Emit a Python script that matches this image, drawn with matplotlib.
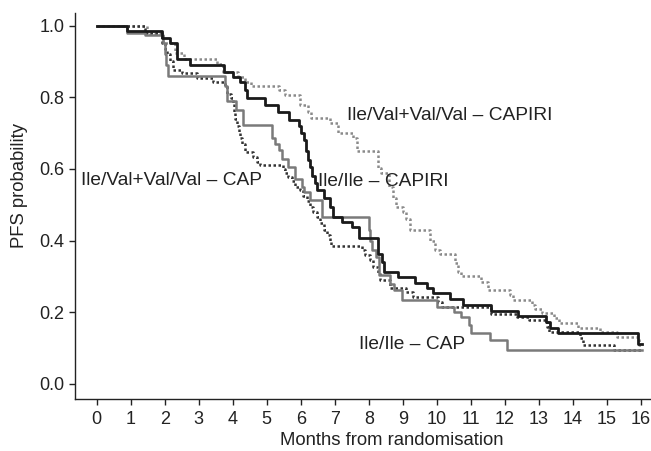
import matplotlib.pyplot as plt

plt.rcParams['font.family'] = ['Liberation Sans', 'DejaVu Sans']

# Ile/Val+Val/Val - CAPIRI (light dotted)
val_capiri_t = [0, 1.47, 1.96, 2.30, 2.56, 3.55, 3.70, 4.15, 4.35, 4.55, 5.35, 5.55, 5.98, 6.20, 6.30,
                6.86, 7.10, 7.55, 7.65, 8.28, 8.35, 8.60, 8.72, 8.80, 9.00, 9.10, 9.20, 9.80, 9.95, 10.10,
                10.55, 10.62, 10.70, 11.30, 11.50, 12.15, 12.25, 12.80, 12.90, 13.10, 13.45, 13.60, 14.15,
                14.80, 15.30, 15.95]
val_capiri_s = [1.0, 0.975, 0.950, 0.922, 0.908, 0.894, 0.871, 0.857, 0.843, 0.831, 0.820, 0.806, 0.778,
                0.760, 0.741, 0.727, 0.699, 0.685, 0.650, 0.602, 0.588, 0.550, 0.520, 0.495, 0.480, 0.460,
                0.430, 0.400, 0.373, 0.364, 0.337, 0.313, 0.301, 0.285, 0.262, 0.248, 0.234, 0.220, 0.209,
                0.198, 0.184, 0.171, 0.156, 0.145, 0.131, 0.109]
val_capiri_end = 16.05

# Ile/Ile - CAPIRI (black solid)
ile_capiri_t = [0, 0.88, 1.92, 2.16, 2.35, 2.74, 3.75, 4.02, 4.21, 4.36, 4.41, 4.95, 5.34, 5.66, 5.95,
                6.02, 6.10, 6.15, 6.20, 6.27, 6.33, 6.42, 6.48, 6.67, 6.86, 6.96, 7.20, 7.50, 7.70, 8.27,
                8.40, 8.45, 8.85, 9.36, 9.70, 9.90, 10.40, 10.78, 11.60, 12.40, 13.22, 13.32, 13.57, 15.93]
ile_capiri_s = [1.0, 0.985, 0.965, 0.950, 0.906, 0.890, 0.871, 0.857, 0.843, 0.820, 0.797, 0.778, 0.760,
                0.736, 0.720, 0.700, 0.680, 0.650, 0.625, 0.605, 0.580, 0.560, 0.541, 0.520, 0.495, 0.467,
                0.453, 0.439, 0.406, 0.364, 0.340, 0.313, 0.299, 0.281, 0.267, 0.253, 0.236, 0.220, 0.204,
                0.190, 0.174, 0.155, 0.141, 0.111]
ile_capiri_end = 16.03

# Ile/Val+Val/Val - CAP (dark dotted)
val_cap_t = [0, 1.42, 1.93, 2.00, 2.07, 2.16, 2.25, 2.50, 2.94, 3.43, 3.77, 3.83, 3.95, 4.00, 4.03,
             4.07, 4.12, 4.17, 4.22, 4.27, 4.35, 4.60, 4.72, 4.80, 5.49, 5.55, 5.63, 5.74, 5.84, 5.98,
             6.08, 6.18, 6.27, 6.37, 6.47, 6.57, 6.67, 6.77, 6.86, 6.90, 7.80, 7.90, 8.04, 8.13, 8.27,
             8.33, 8.63, 9.10, 9.30, 10.05, 10.15, 11.60, 12.35, 12.70, 13.24, 13.30, 14.20, 14.30, 15.20]
val_cap_s = [1.0, 0.978, 0.950, 0.935, 0.920, 0.900, 0.876, 0.867, 0.853, 0.843, 0.830, 0.810, 0.797,
             0.780, 0.760, 0.740, 0.720, 0.700, 0.686, 0.670, 0.648, 0.633, 0.620, 0.610, 0.600, 0.590,
             0.577, 0.565, 0.550, 0.540, 0.525, 0.510, 0.495, 0.480, 0.465, 0.450, 0.430, 0.415, 0.400,
             0.386, 0.375, 0.360, 0.346, 0.326, 0.309, 0.290, 0.268, 0.256, 0.244, 0.228, 0.215, 0.195,
             0.188, 0.178, 0.160, 0.146, 0.128, 0.109, 0.095]
val_cap_end = 16.05

# Ile/Ile - CAP (grey solid)
ile_cap_t = [0, 0.88, 1.42, 1.96, 2.00, 2.05, 2.10, 3.77, 3.82, 4.10, 4.30, 5.15, 5.24, 5.35, 5.45,
             5.63, 5.84, 6.04, 6.10, 6.27, 6.62, 8.00, 8.05, 8.10, 8.20, 8.30, 8.63, 8.75, 8.97, 10.00,
             10.50, 10.70, 10.94, 11.00, 11.57, 12.06]
ile_cap_s = [1.0, 0.980, 0.974, 0.950, 0.920, 0.890, 0.860, 0.830, 0.790, 0.764, 0.722, 0.686, 0.670,
             0.652, 0.628, 0.605, 0.573, 0.550, 0.536, 0.513, 0.467, 0.430, 0.400, 0.374, 0.355, 0.304,
             0.280, 0.262, 0.234, 0.216, 0.200, 0.188, 0.165, 0.141, 0.123, 0.095]
ile_cap_end = 16.05

month_ticks = list(range(0, 17))
prob_ticks = [0.0, 0.2, 0.4, 0.6, 0.8, 1.0]


def km(ax, t, s, end, **kw):
    ax.step(t + [end], s + [s[-1]], where='post', **kw)


fig = plt.figure(figsize=(6.51, 4.51), dpi=100)
ax = fig.add_axes([0.1157, 0.116, 0.8843, 0.8552])

km(ax, val_capiri_t, val_capiri_s, val_capiri_end, color='#8a8a8a', lw=1.8, ls=(0, (1, 1)), zorder=2)
km(ax, val_cap_t, val_cap_s, val_cap_end, color='#333333', lw=1.8, ls=(0, (1, 1)), zorder=3)
km(ax, ile_cap_t, ile_cap_s, ile_cap_end, color='#7a7a7a', lw=1.8, zorder=4)
km(ax, ile_capiri_t, ile_capiri_s, ile_capiri_end, color='#1a1a1a', lw=2.0, zorder=5)

ax.text(7.35, 0.736, 'Ile/Val+Val/Val \u2013 CAPIRI', fontsize=13.8, color='#222222', va='baseline')
ax.text(6.52, 0.553, 'Ile/Ile \u2013 CAPIRI', fontsize=13.8, color='#222222', va='baseline')
ax.text(-0.47, 0.555, 'Ile/Val+Val/Val \u2013 CAP', fontsize=13.8, color='#222222', va='baseline')
ax.text(7.70, 0.097, 'Ile/Ile \u2013 CAP', fontsize=13.8, color='#222222', va='baseline')

ax.set_xlim(-0.63, 16.30)
ax.set_ylim(-0.041, 1.035)
ax.set_xticks(month_ticks)
ax.set_yticks(prob_ticks)
ax.set_yticklabels(['%.1f' % p for p in prob_ticks])
ax.tick_params(labelsize=13, length=4, width=1, color='#222222', labelcolor='#222222')
ax.tick_params(axis='x', pad=5)
ax.tick_params(axis='y', pad=4)
for side in ['top', 'right']:
    ax.spines[side].set_visible(False)
for side in ['left', 'bottom']:
    ax.spines[side].set_linewidth(1)
    ax.spines[side].set_color('#222222')

fig.text(280.5 / 651, 1 - 445 / 451, 'Months from randomisation', fontsize=13.3, color='#222222',
         ha='left', va='baseline')
fig.text(19.5 / 651, 1 - 186 / 451, 'PFS probability', fontsize=13.3, color='#222222',
         rotation=90, ha='center', va='center')

plt.savefig('out.png')
